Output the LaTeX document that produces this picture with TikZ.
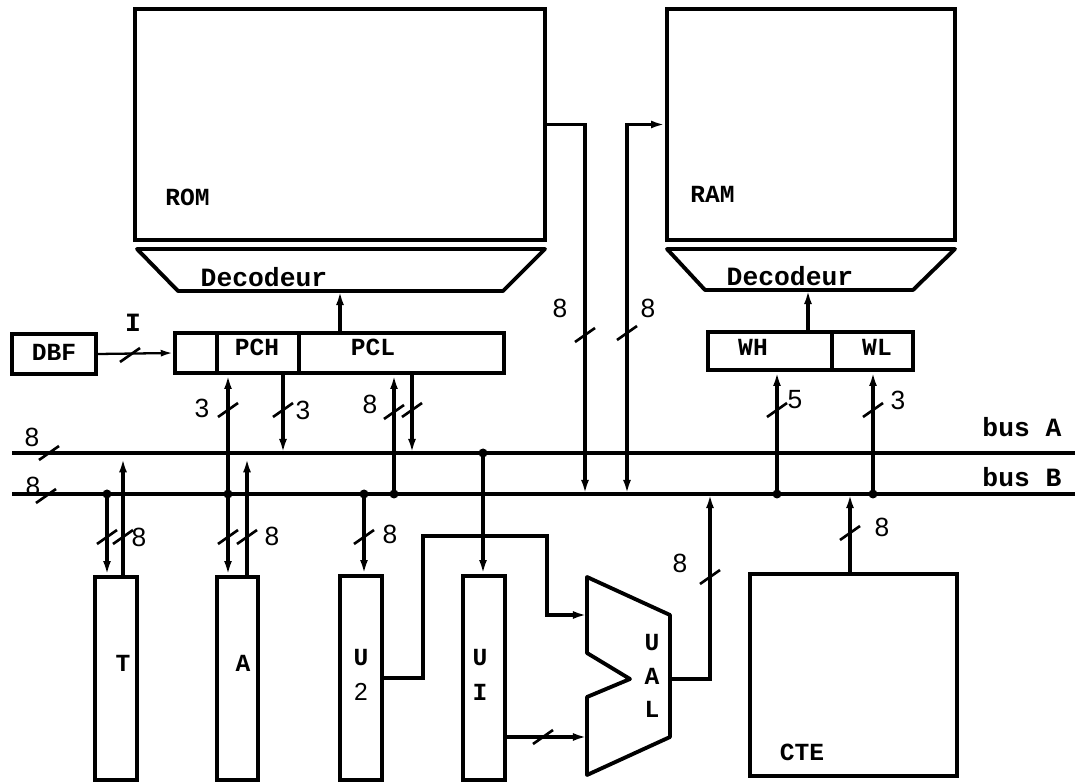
\documentclass[tikz,border=0pt]{standalone}
\usepackage{fontspec}
\setsansfont{Liberation Sans}
\setmonofont{Liberation Mono}
\usetikzlibrary{arrows.meta,calc}
\tikzset{
  unit/.style={draw, line width=2.2pt, inner sep=0pt},
  lbl/.style={font=\ttfamily\bfseries\fontsize{14}{20}\selectfont, inner sep=0pt, align=center},
  deco/.style={font=\ttfamily\bfseries\fontsize{15}{17}\selectfont, inner sep=0pt},
  bits/.style={font=\sffamily\fontsize{15}{17}\selectfont, inner sep=0pt},
  wire/.style={line width=2.2pt},
  arr/.style={wire, -{Latex[length=8pt,width=4.5pt]}},
  dual/.style={wire, {Latex[length=8pt,width=4.5pt]}-{Latex[length=8pt,width=4.5pt]}},
  tick/.pic={\draw[line width=1.5pt] (-10,7) -- (10,-7);}
}
\begin{document}
\begin{tikzpicture}[x=0.02cm, y=-0.02cm]
\useasboundingbox (0,0) rectangle (1082,783);

% memories and decoders
\node[unit, minimum width=8.2cm, minimum height=4.62cm] (rom) at (340,124.5) {};
\node[lbl, anchor=west] (romlbl) at (165,197) {ROM};
\node[unit, minimum width=5.76cm, minimum height=4.62cm] (ram) at (811,124.5) {};
\node[lbl, anchor=west] (ramlbl) at (690,194) {RAM};
\draw[wire, line join=round] (137,249) -- (545,249) -- (503,291) -- (178,291) -- cycle;
\draw[wire, line join=round] (667,249) -- (955,249) -- (913,290) -- (705,290) -- cycle;
\coordinate (romdec) at (340,291);
\coordinate (ramdec) at (808,290);
\node[deco] (romdeclbl) at (264,277) {Decodeur};
\node[deco] (ramdeclbl) at (790,276) {Decodeur};

% registers
\node[unit, minimum width=1.68cm, minimum height=0.8cm] (dbf) at (54,354) {};
\node[lbl] (dbflbl) at (54,352) {DBF};
\node[unit, minimum width=0.84cm, minimum height=0.8cm] (pcx) at (196,353) {};
\node[unit, minimum width=1.64cm, minimum height=0.8cm] (pch) at (258,353) {};
\node[unit, minimum width=4.1cm, minimum height=0.8cm] (pcl) at (401.5,353) {};
\node[lbl] (pchlbl) at (257,347) {PCH};
\node[lbl] (pcllbl) at (373,347) {PCL};
\node[unit, minimum width=2.48cm, minimum height=0.76cm] (wh) at (770,351) {};
\node[unit, minimum width=1.62cm, minimum height=0.76cm] (wl) at (872.5,351) {};
\node[lbl] (whlbl) at (753,347) {WH};
\node[lbl] (wllbl) at (877,347) {WL};

% lower units
\node[unit, minimum width=0.84cm, minimum height=4.06cm] (t) at (116,678.5) {};
\node[lbl] (tlbl) at (123,663) {T};
\node[unit, minimum width=0.82cm, minimum height=4.06cm] (a) at (237.5,678.5) {};
\node[lbl] (albl) at (243,663) {A};
\node[unit, minimum width=0.84cm, minimum height=4.08cm] (u2) at (361,678) {};
\node[lbl] (u2lbl) at (361,675) {U\\\textsf{\mdseries 2}};
\node[unit, minimum width=0.84cm, minimum height=4.08cm] (ui) at (484,678) {};
\node[lbl] (uilbl) at (480,675) {U\\I};
\node[unit, minimum width=4.14cm, minimum height=4.04cm] (cte) at (853.5,675) {};
\node[lbl] (ctelbl) at (802,752) {CTE};
\draw[wire, line join=round] (587,577) -- (670,615) -- (670,737) -- (587,775) -- (587,697)
  -- (630,679) -- (587,653) -- cycle;
\coordinate (ualinA) at (587,615);
\coordinate (ualinB) at (587,737);
\coordinate (ualout) at (670,679);
\node[lbl, font=\ttfamily\bfseries\fontsize{14}{19}\selectfont] (uallbl) at (652,676) {U\\A\\L};

% buses
\coordinate (busAw) at (12,453);
\coordinate (busAe) at (1075,453);
\coordinate (busBw) at (12,494);
\coordinate (busBe) at (1075,494);
\draw[wire] (busAw) -- (busAe);
\draw[wire] (busBw) -- (busBe);
\node[deco] (busAlbl) at (1022,427) {bus A};
\node[deco] (busBlbl) at (1022,477) {bus B};
\node[bits] (busAbits) at (32,437) {8};
\node[bits] (busBbits) at (33,486) {8};
\pic at (49,453) {tick};
\pic at (46,496) {tick};

\coordinate (bT) at (107,494);
\coordinate (bA) at (228,494);
\coordinate (bU2) at (364,494);
\coordinate (bPL) at (394,494);
\coordinate (bROM) at (585,494);
\coordinate (bRAM) at (627,494);
\coordinate (bUAL) at (710,494);
\coordinate (bWH) at (777,494);
\coordinate (bCTE) at (850,494);
\coordinate (bWL) at (873,494);
\coordinate (aT) at (123,453);
\coordinate (aA) at (247,453);
\coordinate (aPH) at (283,453);
\coordinate (aPL) at (412,453);
\coordinate (aUI) at (483,453);

% connections
\draw[arr] (pcl.north -| romdec) -- (romdec);
\draw[arr] (wh.north -| ramdec) -- (ramdec);
\draw[line width=1.3pt, -{Latex[length=7pt,width=4pt]}] (dbf.east) -- (pcx.west);
\draw[arr] (rom.east) -| (bROM);
\draw[dual] (bRAM) |- (ram.west);
\draw[arr] (bT) -- (bT |- t.north);
\draw[arr, shorten >=3pt] (t.north -| aT) -- (aT);
\draw[arr] (bA) -- (bA |- pch.south);
\draw[arr] (bA) -- (bA |- a.north);
\draw[arr, shorten >=3pt] (a.north -| aA) -- (aA);
\draw[arr] (pch.south -| aPH) -- (aPH);
\draw[arr] (bPL) -- (bPL |- pcl.south);
\draw[arr] (pcl.south -| aPL) -- (aPL);
\draw[arr] (bU2) -- (bU2 |- u2.north);
\draw[arr] (aUI) -- (aUI |- ui.north);
\draw[arr] (u2.east) -| (423,536) -| (547,615) -- (ualinA);
\draw[arr] (ui.east |- ualinB) -- (ualinB);
\draw[arr] (ualout) -| (bUAL);
\draw[arr] (cte.north -| bCTE) -- (bCTE);
\draw[arr] (bWH) -- (bWH |- wh.south);
\draw[arr] (bWL) -- (bWL |- wl.south);
\foreach \j in {bT,bA,bU2,bPL,bWH,bWL,aUI}
  \fill (\j) circle (4.5);

% bus widths
\foreach \p in {(130,355),(585,335),(627,333),(228,410),(283,410),(394,412),(412,410),
  (107,537),(123,537),(228,537),(247,537),(364,537),(710,577),(543,737),(850,533),
  (777,410),(873,410)}
  \pic at \p {tick};
\node[font=\ttfamily\bfseries\fontsize{15}{17}\selectfont, inner sep=0pt] (dbfbits) at (133,323) {I};
\node[bits] (pchinbits) at (202,408) {3};
\node[bits] (pchoutbits) at (303,410) {3};
\node[bits] (pclbits) at (370,404) {8};
\node[bits] (tbits) at (139,537) {8};
\node[bits] (abits) at (272,536) {8};
\node[bits] (u2bits) at (390,534) {8};
\node[bits] (rombits) at (560,308) {8};
\node[bits] (rambits) at (648,308) {8};
\node[bits] (ualbits) at (680,563) {8};
\node[bits] (ctebits) at (882,527) {8};
\node[bits] (whbits) at (795,400) {5};
\node[bits] (wlbits) at (898,400) {3};
\end{tikzpicture}
\end{document}
